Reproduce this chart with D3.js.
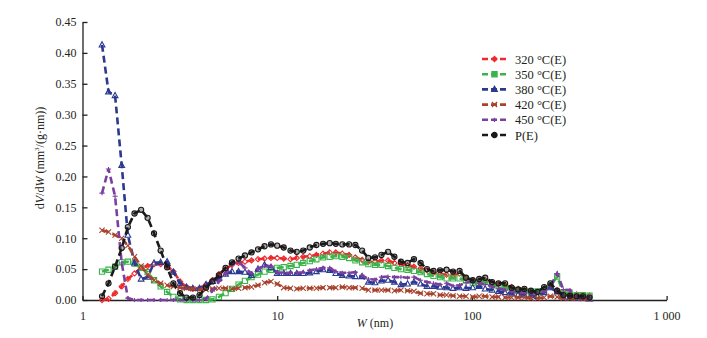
<!DOCTYPE html>
<html>
<head>
    <title>dV/dW</title>
    <script src="https://d3js.org/d3.v7.min.js"></script>
    <style>
        body { margin: 0; background: #fff; }
        svg text { font-family: "Liberation Serif", "Times New Roman", Tinos, serif; fill: #231f20; }
    </style>
</head>
<body>
<svg width="707" height="338"></svg>
<script>
    // pore width W (nm), shared by all the curves
    var poreW = [1.26, 1.36, 1.47, 1.59, 1.71, 1.85, 2.00, 2.16, 2.33, 2.52,
                 2.72, 2.93, 3.17, 3.42, 3.69, 3.99, 4.31, 4.65, 5.02, 5.43,
                 5.86, 6.33, 6.83, 7.38, 7.97, 8.61, 9.29, 10.0, 10.8, 11.7,
                 12.6, 13.6, 14.7, 15.9, 17.2, 18.6, 20.0, 21.6, 23.4, 25.2,
                 27.3, 29.4, 31.8, 34.3, 37.1, 40.0, 43.2, 46.7, 50.4, 54.5,
                 58.8, 63.5, 68.6, 74.1, 80.0, 86.4, 93.3, 101, 109, 117,
                 127, 137, 148, 160, 173, 186, 201, 217, 235, 253,
                 274, 295, 319, 345, 372, 402];

    var v320 = [0.000, 0.002, 0.011, 0.022, 0.034, 0.043, 0.052, 0.055, 0.058, 0.058,
                0.055, 0.046, 0.030, 0.021, 0.018, 0.019, 0.025, 0.032, 0.042, 0.050,
                0.057, 0.060, 0.062, 0.064, 0.066, 0.067, 0.068, 0.068, 0.067, 0.066,
                0.068, 0.070, 0.071, 0.073, 0.075, 0.077, 0.077, 0.075, 0.073, 0.069,
                0.065, 0.062, 0.062, 0.064, 0.064, 0.060, 0.058, 0.056, 0.054, 0.051,
                0.048, 0.044, 0.042, 0.041, 0.040, 0.043, 0.036, 0.032, 0.031, 0.032,
                0.028, 0.026, 0.024, 0.021, 0.018, 0.016, 0.014, 0.013, 0.018, 0.024,
                0.016, 0.012, 0.010, 0.009, 0.008, 0.007];

    var v350 = [0.046, 0.049, 0.054, 0.061, 0.062, 0.059, 0.052, 0.045, 0.032, 0.022,
                0.013, 0.005, 0.001, 0.000, 0.000, 0.000, 0.000, 0.001, 0.005, 0.011,
                0.018, 0.025, 0.031, 0.037, 0.041, 0.046, 0.049, 0.052, 0.053, 0.055,
                0.057, 0.060, 0.063, 0.066, 0.069, 0.070, 0.071, 0.070, 0.068, 0.064,
                0.061, 0.058, 0.057, 0.057, 0.055, 0.052, 0.050, 0.049, 0.047, 0.045,
                0.042, 0.039, 0.037, 0.035, 0.035, 0.035, 0.032, 0.028, 0.027, 0.029,
                0.024, 0.022, 0.020, 0.017, 0.015, 0.014, 0.013, 0.014, 0.016, 0.022,
                0.038, 0.012, 0.009, 0.008, 0.008, 0.007];

    var v380 = [0.413, 0.337, 0.331, 0.218, 0.105, 0.060, 0.034, 0.037, 0.060, 0.061,
                0.062, 0.045, 0.027, 0.021, 0.019, 0.019, 0.025, 0.030, 0.035, 0.042,
                0.046, 0.046, 0.045, 0.040, 0.050, 0.057, 0.053, 0.043, 0.043, 0.043,
                0.043, 0.043, 0.044, 0.046, 0.049, 0.048, 0.043, 0.040, 0.039, 0.038,
                0.038, 0.029, 0.028, 0.031, 0.032, 0.029, 0.025, 0.026, 0.029, 0.026,
                0.022, 0.022, 0.021, 0.020, 0.019, 0.020, 0.019, 0.020, 0.022, 0.018,
                0.016, 0.014, 0.012, 0.010, 0.009, 0.008, 0.007, 0.006, 0.012, 0.020,
                0.013, 0.005, 0.004, 0.003, 0.003, 0.002];

    var v420 = [0.113, 0.110, 0.105, 0.100, 0.088, 0.070, 0.055, 0.041, 0.032, 0.027,
                0.024, 0.022, 0.020, 0.019, 0.018, 0.017, 0.017, 0.018, 0.019, 0.019,
                0.018, 0.019, 0.020, 0.021, 0.024, 0.028, 0.030, 0.026, 0.020, 0.019,
                0.018, 0.019, 0.019, 0.019, 0.020, 0.020, 0.020, 0.021, 0.020, 0.020,
                0.019, 0.016, 0.016, 0.016, 0.016, 0.015, 0.016, 0.015, 0.014, 0.011,
                0.010, 0.010, 0.008, 0.008, 0.007, 0.006, 0.006, 0.005, 0.006, 0.006,
                0.005, 0.005, 0.004, 0.004, 0.004, 0.004, 0.003, 0.003, 0.004, 0.006,
                0.005, 0.003, 0.003, 0.003, 0.002, 0.002];

    var v450 = [0.173, 0.212, 0.168, 0.060, 0.003, 0.000, 0.000, 0.000, 0.000, 0.000,
                0.000, 0.000, 0.000, 0.000, 0.000, 0.000, 0.002, 0.015, 0.030, 0.042,
                0.058, 0.062, 0.052, 0.043, 0.050, 0.055, 0.055, 0.045, 0.044, 0.044,
                0.044, 0.045, 0.048, 0.050, 0.052, 0.052, 0.046, 0.044, 0.044, 0.045,
                0.040, 0.034, 0.033, 0.037, 0.038, 0.037, 0.037, 0.036, 0.037, 0.032,
                0.029, 0.027, 0.025, 0.027, 0.023, 0.024, 0.028, 0.030, 0.027, 0.025,
                0.022, 0.019, 0.016, 0.014, 0.013, 0.012, 0.011, 0.011, 0.014, 0.022,
                0.043, 0.017, 0.016, 0.006, 0.005, 0.004];

    var vP = [0.006, 0.027, 0.054, 0.084, 0.118, 0.140, 0.146, 0.133, 0.108, 0.080,
              0.053, 0.027, 0.011, 0.004, 0.004, 0.008, 0.020, 0.030, 0.040, 0.052,
              0.061, 0.067, 0.072, 0.077, 0.082, 0.087, 0.090, 0.088, 0.085, 0.080,
              0.078, 0.080, 0.085, 0.089, 0.091, 0.092, 0.091, 0.090, 0.090, 0.089,
              0.080, 0.068, 0.069, 0.073, 0.078, 0.070, 0.062, 0.060, 0.066, 0.060,
              0.050, 0.047, 0.048, 0.049, 0.046, 0.047, 0.036, 0.032, 0.034, 0.036,
              0.029, 0.027, 0.027, 0.020, 0.017, 0.018, 0.015, 0.013, 0.021, 0.027,
              0.015, 0.008, 0.007, 0.006, 0.006, 0.004];

    var seriesNames = ["320 °C(E)", "350 °C(E)", "380 °C(E)", "420 °C(E)", "450 °C(E)", "P(E)"];
    var seriesValues = [v320, v350, v380, v420, v450, vP];
    var seriesColors = ["#ee2a2e", "#3bb34a", "#2b3990", "#a8432c", "#7b3fa0", "#1a1a1a"];
    var seriesMarks = ["diamond", "square", "triangle", "cross", "plus", "circle"];

    var xTicks = [1, 10, 100, 1000];
    var xTickLabels = ["1", "10", "100", "1 000"];
    var yTicks = [0, 0.05, 0.10, 0.15, 0.20, 0.25, 0.30, 0.35, 0.40, 0.45];

    var serif = "'Liberation Serif', 'Times New Roman', Tinos, serif";

    var svg = d3.select("svg");

    var x = d3.scaleLog().domain([1, 1000]).range([82.5, 666.6]);
    var y = d3.scaleLinear().domain([0, 0.45]).range([300, 22]);

    // axes, ticks pointing inwards
    var xAxis = svg.append("g")
        .attr("transform", "translate(0,300)")
        .call(d3.axisBottom(x).tickValues(xTicks).tickSizeInner(-4).tickSizeOuter(0)
            .tickFormat(function(d, i) { return xTickLabels[i]; }));
    xAxis.selectAll("text").attr("dy", "1.45em");

    var yAxis = svg.append("g")
        .attr("transform", "translate(82.5,0)")
        .call(d3.axisLeft(y).tickValues(yTicks).tickSizeInner(-5).tickSizeOuter(0)
            .tickFormat(d3.format(".2f")));
    yAxis.selectAll("text").attr("x", -6);

    svg.selectAll("g").attr("font-family", serif).attr("font-size", 12);
    svg.selectAll(".domain, .tick line").attr("stroke", "#231f20").attr("stroke-width", 1.3);
    svg.selectAll(".tick text").attr("fill", "#231f20");

    // axis titles
    var yTitle = svg.append("text")
        .attr("transform", "translate(44,158) rotate(-90)")
        .attr("text-anchor", "middle")
        .attr("font-size", "12px");
    yTitle.append("tspan").text("d");
    yTitle.append("tspan").attr("font-style", "italic").text("V");
    yTitle.append("tspan").text("/d");
    yTitle.append("tspan").attr("font-style", "italic").text("W");
    yTitle.append("tspan").text(" (mm");
    yTitle.append("tspan").attr("font-size", "7px").attr("dy", "-5").text("3");
    yTitle.append("tspan").attr("dy", "5").text("/(g·nm))");

    var xTitle = svg.append("text")
        .attr("x", 375).attr("y", 327)
        .attr("text-anchor", "middle")
        .attr("font-size", "12px");
    xTitle.append("tspan").attr("font-style", "italic").text("W");
    xTitle.append("tspan").text(" (nm)");

    // marker shapes
    function markPath(kind, s) {
        if (kind == "diamond") return "M0," + (-s) + "L" + s + ",0L0," + s + "L" + (-s) + ",0Z";
        if (kind == "square") return "M" + (-s) + "," + (-s) + "h" + (2 * s) + "v" + (2 * s) + "h" + (-2 * s) + "Z";
        if (kind == "triangle") return "M0," + (-s * 1.2) + "L" + (s * 1.1) + "," + (s * 0.8) + "L" + (-s * 1.1) + "," + (s * 0.8) + "Z";
        if (kind == "cross") return "M" + (-s) + "," + (-s) + "L" + s + "," + s + "M" + s + "," + (-s) + "L" + (-s) + "," + s;
        if (kind == "plus") return "M" + (-s) + ",0H" + s + "M0," + (-s * 0.8) + "V" + (s * 0.8);
        return "M" + s + ",0A" + s + "," + s + " 0 1,1 " + (-s) + ",0A" + s + "," + s + " 0 1,1 " + s + ",0";
    }

    var line = d3.line()
        .x(function(d) { return x(d[0]); })
        .y(function(d) { return y(d[1]); });

    seriesValues.forEach(function(vals, i) {
        var pts = poreW.map(function(w, j) { return [w, vals[j]]; });
        var g = svg.append("g");
        g.append("path")
            .attr("d", line(pts))
            .attr("fill", "none")
            .attr("stroke", seriesColors[i])
            .attr("stroke-width", 2.6)
            .attr("stroke-dasharray", "7,4");
        g.selectAll("path.mk")
            .data(pts)
            .enter().append("path")
            .attr("class", "mk")
            .attr("transform", function(d) { return "translate(" + x(d[0]) + "," + y(d[1]) + ")"; })
            .attr("d", markPath(seriesMarks[i], 2.6))
            .attr("fill", seriesMarks[i] == "circle" ? seriesColors[i] : "none")
            .attr("fill-opacity", 0.35)
            .attr("stroke", seriesColors[i])
            .attr("stroke-width", 1.1);
    });

    // legend
    var legend = svg.append("g").attr("transform", "translate(482,59)");
    seriesNames.forEach(function(name, i) {
        var row = legend.append("g").attr("transform", "translate(0," + (i * 15.2) + ")");
        row.append("line")
            .attr("x1", 0).attr("x2", 25)
            .attr("stroke", seriesColors[i])
            .attr("stroke-width", 2.6)
            .attr("stroke-dasharray", "6,3");
        row.append("path")
            .attr("transform", "translate(12.5,0)")
            .attr("d", markPath(seriesMarks[i], 2.6))
            .attr("fill", seriesColors[i])
            .attr("stroke", seriesColors[i])
            .attr("stroke-width", 1.2);
        row.append("text")
            .attr("x", 33).attr("y", 4.5)
            .attr("font-size", "12.5px")
            .text(name);
    });
</script>
</body>
</html>
